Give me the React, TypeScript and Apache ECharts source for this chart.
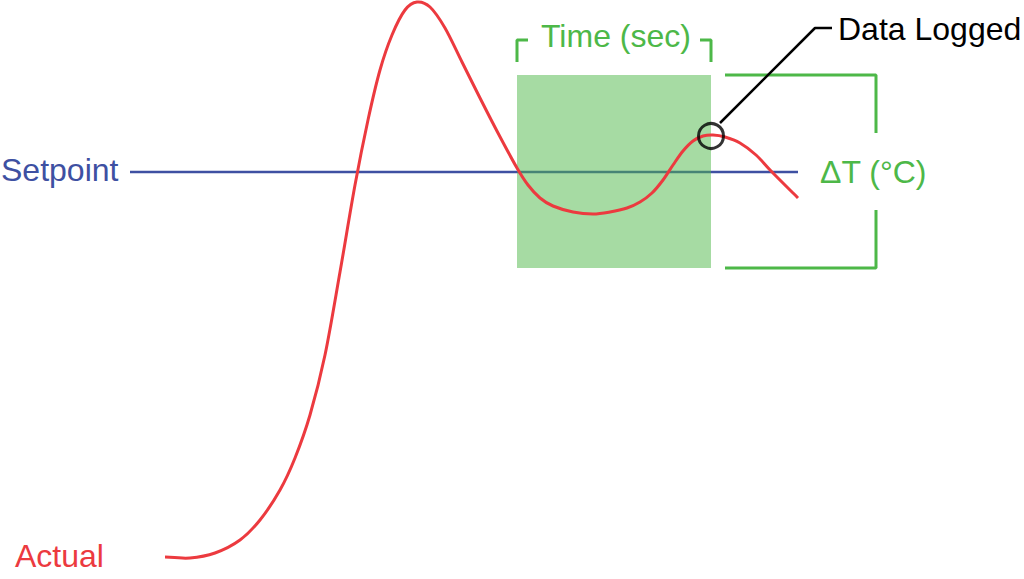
import React, { useEffect, useRef } from "react";
import * as echarts from "echarts";

// Time axis (x) and temperature axis (y), arbitrary units
const actualCurve: [number, number][] = [
  [165, 22], [190, 21], [215, 26], [240, 39], [260, 59], [280, 89], [295, 121],
  [310, 164], [325, 224], [340, 307], [355, 394], [368, 459], [380, 509],
  [392, 544], [405, 569], [417, 577], [430, 572], [445, 551], [462, 517],
  [480, 481], [498, 446], [517, 411], [528, 394], [540, 381], [553, 373],
  [573, 367], [593, 365], [610, 367], [627, 371], [640, 377], [652, 386],
  [663, 399], [673, 414], [683, 428], [693, 438], [703, 443], [713, 444],
  [725, 442], [740, 436], [756, 424], [772, 407], [798, 381],
];
const setpointLine: [number, number][] = [[130, 407], [798, 407]];
const loggingWindow = [517, 311, 711, 504]; // t0, temp low, t1, temp high
const timeBracketLeft: [number, number][] = [[528, 539], [517, 539], [517, 517]];
const timeBracketRight: [number, number][] = [[700, 539], [711, 539], [711, 517]];
const deltaBracketTop: [number, number][] = [[725, 504], [876, 504], [876, 446]];
const deltaBracketBottom: [number, number][] = [[876, 369], [876, 311], [725, 311]];
const loggedPoint: [number, number][] = [[711, 443]];
const leaderLine: [number, number][] = [[720, 456], [815, 551], [832, 551]];

const RED = "#ec3a3f";
const BLUE = "#3e50a2";
const GREEN = "#4db848";
const FONT = "'Liberation Sans', Arial, Helvetica, sans-serif";

function splinePath(pts: number[][]): string {
  let d = `M${pts[0][0]},${pts[0][1]}`;
  for (let i = 0; i < pts.length - 1; i++) {
    const p0 = pts[i - 1] || pts[i];
    const p1 = pts[i];
    const p2 = pts[i + 1];
    const p3 = pts[i + 2] || p2;
    const c1x = p1[0] + (p2[0] - p0[0]) / 6;
    const c1y = p1[1] + (p2[1] - p0[1]) / 6;
    const c2x = p2[0] - (p3[0] - p1[0]) / 6;
    const c2y = p2[1] - (p3[1] - p1[1]) / 6;
    d += ` C${c1x},${c1y} ${c2x},${c2y} ${p2[0]},${p2[1]}`;
  }
  return d;
}

export default function App() {
  const ref = useRef<HTMLDivElement>(null);
  useEffect(() => {
    if (!ref.current) return;
    const chart = echarts.init(ref.current, undefined, { renderer: "svg" });
    const bracket = (data: [number, number][]) => ({
      type: "line",
      data,
      symbol: "none",
      silent: true,
      z: 3,
      lineStyle: { color: GREEN, width: 3 },
    });
    const text = (t: string, x: number, y: number, color: string) => ({
      type: "text",
      x,
      y,
      silent: true,
      style: {
        text: t,
        fill: color,
        font: `32px ${FONT}`,
        align: "left",
        verticalAlign: "middle",
      },
    });
    chart.setOption({
      animation: false,
      grid: { left: 0, right: 0, top: 0, bottom: 0 },
      xAxis: { type: "value", min: 0, max: 1024, show: false },
      yAxis: { type: "value", min: 0, max: 579, show: false },
      series: [
        {
          type: "line",
          name: "Setpoint",
          data: setpointLine,
          symbol: "none",
          z: 2,
          lineStyle: { color: BLUE, width: 2.5 },
        },
        {
          type: "custom",
          z: 3,
          silent: true,
          data: [loggingWindow],
          renderItem: (_p: any, api: any) => {
            const a = api.coord([api.value(0), api.value(3)]);
            const b = api.coord([api.value(2), api.value(1)]);
            return {
              type: "rect",
              shape: { x: a[0], y: a[1], width: b[0] - a[0], height: b[1] - a[1] },
              style: { fill: GREEN, opacity: 0.5 },
            };
          },
        },
        bracket(timeBracketLeft),
        bracket(timeBracketRight),
        bracket(deltaBracketTop),
        bracket(deltaBracketBottom),
        {
          type: "custom",
          name: "Actual",
          z: 4,
          silent: true,
          data: actualCurve,
          renderItem: (p: any, api: any) => {
            if (p.dataIndex !== 0) return null;
            const pts = actualCurve.map((d) => api.coord(d));
            return {
              type: "path",
              shape: { pathData: splinePath(pts) },
              style: { stroke: RED, lineWidth: 3, fill: "none" },
            };
          },
        },
        {
          type: "line",
          data: leaderLine,
          symbol: "none",
          z: 5,
          lineStyle: { color: "#000", width: 2.5 },
        },
        {
          type: "scatter",
          data: loggedPoint,
          symbol: "circle",
          symbolSize: 25,
          z: 6,
          itemStyle: { color: "rgba(0,0,0,0)", borderColor: "#000", borderWidth: 3 },
        },
      ],
      graphic: [
        text("Setpoint", 1, 170, BLUE),
        text("Actual", 15, 556, RED),
        text("Time (sec)", 541, 36, GREEN),
        text("Data Logged", 838, 29, "#000"),
        text("ΔT (°C)", 820, 172, GREEN),
      ],
    });
    return () => chart.dispose();
  }, []);
  return (
    <div
      ref={ref}
      style={{ position: "fixed", left: 0, top: 0, width: 1024, height: 579, background: "#fff" }}
    />
  );
}
